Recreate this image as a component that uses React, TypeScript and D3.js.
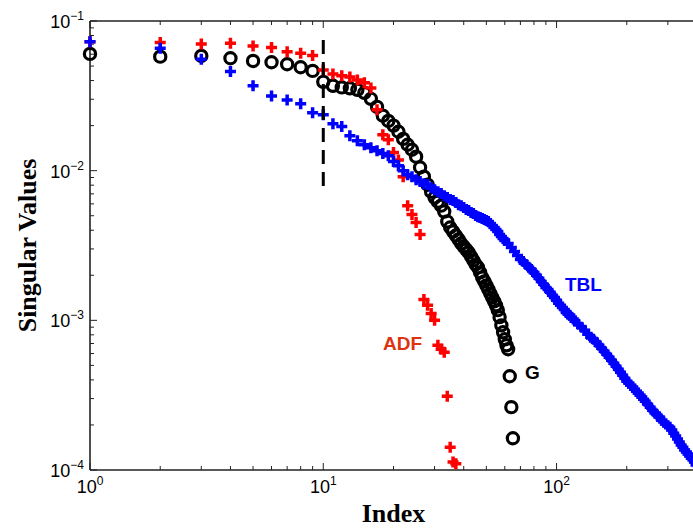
import React from 'react';
import * as d3 from 'd3';

const W = 693;
const H = 529;

// G series (black circles), index = position + 1
const gValues = [
  0.0603, 0.0578, 0.0584, 0.0564, 0.0541, 0.0530, 0.0514, 0.0491, 0.0464, 0.0392,
  0.0369, 0.0360, 0.0355, 0.0347, 0.0331, 0.0302, 0.0267, 0.0233, 0.0215, 0.0200,
  0.0182, 0.0163, 0.0149, 0.0138, 0.0124, 0.0105, 0.00912, 0.00806, 0.00724, 0.00661,
  0.00621, 0.00584, 0.00533, 0.00457, 0.00417, 0.00392, 0.00369, 0.00347, 0.00326, 0.00311,
  0.00297, 0.00284, 0.00267, 0.00251, 0.00236, 0.00226, 0.00209, 0.00193, 0.00182, 0.00171,
  0.00161, 0.00151, 0.00142, 0.00134, 0.00126, 0.00117, 0.00105, 0.000926, 0.000832, 0.000747,
  0.000681, 0.000641, 0.000423, 0.000263, 0.000163,
];

// ADF series (red pluses), index = position + 1
const adfValues = [
  0.0728, 0.0717, 0.0703, 0.0710, 0.0681, 0.0664, 0.0624, 0.0609, 0.0589, 0.0471,
  0.0443, 0.0430, 0.0423, 0.0404, 0.0386, 0.0357, 0.0255, 0.0174, 0.0161, 0.0132,
  0.0118, 0.00912, 0.00584, 0.00509, 0.00450, 0.00374, 0.00138, 0.00126, 0.00111, 0.00100,
  0.000681, 0.000641, 0.000612, 0.000311, 0.000142, 0.000113, 0.000110,
];

// TBL series (blue pluses)
const tblIndex = [
  1, 2, 3, 4, 5, 6, 7, 8, 9, 10, 11, 12, 13, 14, 15, 16, 17, 18, 19, 20,
  21, 22, 23, 24, 25, 26, 27, 28, 29, 30, 31, 32, 33, 34, 35, 36, 37, 38, 39, 40,
  41, 42, 43, 44, 45, 46, 47, 48, 49, 50, 51, 52, 53, 54, 55, 56, 57, 58, 59, 60,
  62, 64, 66, 68, 70, 72, 74, 76, 78, 80, 82, 84, 86, 88, 90, 92, 94, 96, 98, 100,
  102, 104, 106, 108, 110, 112, 114, 116, 118, 120,
  124, 128, 132, 136, 140, 144, 148, 152, 156, 160, 164, 168, 172, 176, 180, 184, 188, 192, 196, 200,
  204, 208, 212, 216, 220, 224, 228, 232, 236, 240,
  246, 252, 258, 264, 270, 276, 282, 288, 294, 300, 306, 312, 318, 324, 330, 336, 342, 348, 354, 360,
  366, 372, 378, 384, 390, 396,
];
const tblValues = [
  0.0728, 0.0658, 0.0556, 0.0459, 0.0369, 0.0316, 0.0297, 0.0280, 0.0244, 0.0236,
  0.0206, 0.0197, 0.0171, 0.01585, 0.0149, 0.0142, 0.0136, 0.0130, 0.0126, 0.0115,
  0.0108, 0.0100, 0.00940, 0.00912, 0.00871, 0.00845, 0.00819, 0.00807, 0.00770, 0.00747,
  0.00724, 0.00703, 0.00681, 0.00661, 0.00641, 0.00631, 0.00612, 0.00593, 0.00584, 0.00567,
  0.00550, 0.00541, 0.00525, 0.00517, 0.00501, 0.00493, 0.00486, 0.00479, 0.00471, 0.00464,
  0.00457, 0.00443, 0.00430, 0.00417, 0.00404, 0.00392, 0.00374, 0.00363, 0.00352, 0.00341,
  0.00326, 0.00307, 0.00288, 0.00271, 0.00255, 0.00247, 0.00236, 0.00226, 0.00219, 0.00209,
  0.00200, 0.00191, 0.00182, 0.00174, 0.00166, 0.00161, 0.00154, 0.00147, 0.00142, 0.00136,
  0.00130, 0.00126, 0.00122, 0.00118, 0.00113, 0.00110, 0.00108, 0.00105, 0.00102, 0.000985,
  0.000940, 0.000898, 0.000858, 0.000807, 0.000770, 0.000747, 0.000714, 0.000681, 0.000651, 0.000621,
  0.000593, 0.000567, 0.000541, 0.000517, 0.000493, 0.000471, 0.000450, 0.000430, 0.000411, 0.000392,
  0.000380, 0.000369, 0.000358, 0.000347, 0.000336, 0.000326, 0.000316, 0.000307, 0.000297, 0.000288,
  0.000275, 0.000263, 0.000251, 0.000240, 0.000233, 0.000226, 0.000215, 0.000209, 0.000203, 0.000197,
  0.000193, 0.000185, 0.000176, 0.000169, 0.000161, 0.000154, 0.000147, 0.000142, 0.000136, 0.000132,
  0.000128, 0.000124, 0.000120, 0.000117, 0.000113, 0.000108,
];

// Dashed cutoff marker
const cutoffIndex = 10;
const cutoffRange = [0.0747, 0.0077];

const xDomain = [1, 400];
const yDomain = [1e-4, 1e-1];
const xMajorTicks = [1, 10, 100];
const xMajorExp = ['0', '1', '2'];
const yMajorTicks = [1e-1, 1e-2, 1e-3, 1e-4];
const yMajorExp = ['\u22121', '\u22122', '\u22123', '\u22124'];

const seriesLabels = [
  { text: 'TBL', color: '#0000ff', x: 565, y: 291 },
  { text: 'ADF', color: '#dd3311', x: 383, y: 350 },
  { text: 'G', color: '#000000', x: 525, y: 379 },
];

const PLUS = 'M-5.5,0H5.5M0,-5.5V5.5';

export default function App() {
  const left = 90, right = 697, top = 21, bottom = 470;
  const x = d3.scaleLog().domain(xDomain).range([left, right]);
  const y = d3.scaleLog().domain(yDomain).range([bottom, top]);

  const isMajor = (v: number) => Math.abs(Math.log10(v) - Math.round(Math.log10(v))) < 1e-9;
  const xt = x.ticks();
  const yt = y.ticks();
  const axisColor = '#222';
  const tickFont = '"Liberation Sans", Arial, Helvetica, sans-serif';
  const labelFont = '"Liberation Serif", "Times New Roman", serif';

  return (
    <svg width={W} height={H} style={{ position: 'absolute', left: 0, top: 0, background: '#fff' }}>
      <rect x={0} y={0} width={W} height={H} fill="#fff" />
      {/* ticks */}
      <g stroke={axisColor} strokeWidth={1}>
        {xt.map((t, i) => {
          const len = isMajor(t) ? 7 : 4;
          const px = x(t);
          return (
            <g key={'xt' + i}>
              <line x1={px} x2={px} y1={bottom} y2={bottom - len} />
              <line x1={px} x2={px} y1={top} y2={top + len} />
            </g>
          );
        })}
        {yt.map((t, i) => {
          const len = isMajor(t) ? 7 : 4;
          const py = y(t);
          return <line key={'yt' + i} x1={left} x2={left + len} y1={py} y2={py} />;
        })}
      </g>
      {/* frame */}
      <g stroke={axisColor} strokeWidth={1.6} fill="none">
        <line x1={left} x2={right} y1={bottom} y2={bottom} />
        <line x1={left} x2={right} y1={top} y2={top} />
        <line x1={left} x2={left} y1={top} y2={bottom} />
        <line x1={right} x2={right} y1={top} y2={bottom} />
      </g>
      {/* tick labels */}
      <g fontFamily={tickFont} fill="#000">
        {xMajorTicks.map((t, i) => (
          <text key={'xl' + i} x={x(t)} y={493} textAnchor="middle" fontSize={18}>
            <tspan>10</tspan>
            <tspan dy={-8} fontSize={12}>{xMajorExp[i]}</tspan>
          </text>
        ))}
        {yMajorTicks.map((t, i) => (
          <text key={'yl' + i} x={84} y={y(t) + 7} textAnchor="end" fontSize={18}>
            <tspan>10</tspan>
            <tspan dy={-8} fontSize={12}>{yMajorExp[i]}</tspan>
          </text>
        ))}
      </g>
      {/* axis titles */}
      <text x={(left + right) / 2} y={522} textAnchor="middle" fontFamily={labelFont} fontWeight="bold" fontSize={26}>
        Index
      </text>
      <text
        transform={`translate(36,${(top + bottom) / 2}) rotate(-90)`}
        textAnchor="middle"
        fontFamily={labelFont}
        fontWeight="bold"
        fontSize={26}
      >
        Singular Values
      </text>
      {/* G circles */}
      <g fill="none" stroke="#000" strokeWidth={3.2}>
        {gValues.map((v, i) => (
          <circle key={'g' + i} cx={x(i + 1)} cy={y(v)} r={5.6} />
        ))}
      </g>
      {/* ADF pluses */}
      <g fill="none" stroke="#ff0000" strokeWidth={3.5}>
        {adfValues.map((v, i) => (
          <path key={'a' + i} d={PLUS} transform={`translate(${x(i + 1)},${y(v)})`} />
        ))}
      </g>
      {/* TBL pluses */}
      <g fill="none" stroke="#0000ff" strokeWidth={3.5}>
        {tblValues.map((v, i) => (
          <path key={'t' + i} d={PLUS} transform={`translate(${x(tblIndex[i])},${y(v)})`} />
        ))}
      </g>
      {/* cutoff dashed line */}
      <line
        x1={x(cutoffIndex)}
        x2={x(cutoffIndex)}
        y1={y(cutoffRange[0])}
        y2={y(cutoffRange[1])}
        stroke="#000"
        strokeWidth={3}
        strokeDasharray="14,8"
      />
      {/* series labels */}
      {seriesLabels.map((l) => (
        <text key={l.text} x={l.x} y={l.y} fill={l.color} fontFamily={tickFont} fontWeight="bold" fontSize={19}>
          {l.text}
        </text>
      ))}
    </svg>
  );
}
